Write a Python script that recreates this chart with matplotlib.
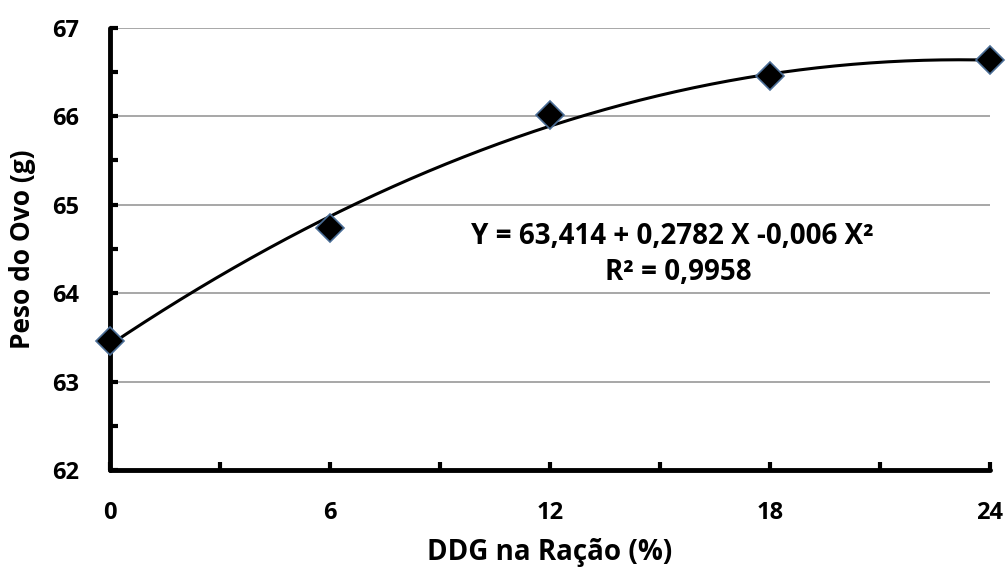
import numpy as np
import matplotlib.pyplot as plt

plt.rcParams['font.family'] = ['Open Sans', 'DejaVu Sans']
plt.rcParams['font.weight'] = 'bold'

# data
ddg = [0, 6, 12, 18, 24]
peso = [63.46, 64.74, 66.01, 66.46, 66.64]

# fitted quadratic from the label (c0, c1, c2)
coef = [63.414, 0.2782, -0.006]
eq_text = 'Y = 63,414 + 0,2782 X -0,006 X²'
r2_text = 'R² = 0,9958'

x_ticks = [0, 6, 12, 18, 24]
y_ticks = [62, 63, 64, 65, 66, 67]

fig = plt.figure(figsize=(10.07, 5.68), dpi=100)
ax = fig.add_axes([0.109, 0.1725, 0.874, 0.7785])

xs = np.linspace(0, 24, 200)
ys = coef[0] + coef[1]*xs + coef[2]*xs**2
ax.plot(xs, ys, color='black', lw=2.2, zorder=3)

ax.plot(ddg, peso, linestyle='none', marker='D', markersize=14,
        markerfacecolor='black', markeredgecolor='#4a6d96',
        markeredgewidth=1.2, zorder=4, clip_on=False)

# gridlines
for yv in y_ticks[1:]:
    ax.axhline(yv, color='#a0a0a0', lw=1.3, zorder=1)

ax.set_xlim(0, 24)
ax.set_ylim(62, 67)
ax.set_xticks(x_ticks)
ax.set_xticks([3, 9, 15, 21], minor=True)
ax.set_yticks(y_ticks)
ax.set_yticks(np.arange(62.5, 67, 1.0), minor=True)

for s in ['top', 'right']:
    ax.spines[s].set_visible(False)
for s in ['left', 'bottom']:
    ax.spines[s].set_linewidth(3.5)
    ax.spines[s].set_capstyle('round')

ax.tick_params(which='both', direction='in', width=3, length=6,
               labelsize=17, color='black')
ax.tick_params(axis='x', pad=22)
ax.tick_params(axis='y', pad=22)

ax.set_xlabel('DDG na Ração (%)', fontsize=20, fontweight='bold', labelpad=10)
ax.set_ylabel('Peso do Ovo (g)', fontsize=19, fontweight='bold', labelpad=12)

ax.text(15.33, 64.64, eq_text, fontsize=20, fontweight='bold',
        ha='center', va='center')
ax.text(15.5, 64.23, r2_text, fontsize=20, fontweight='bold',
        ha='center', va='center')

fig.savefig('out.png', dpi=100)
